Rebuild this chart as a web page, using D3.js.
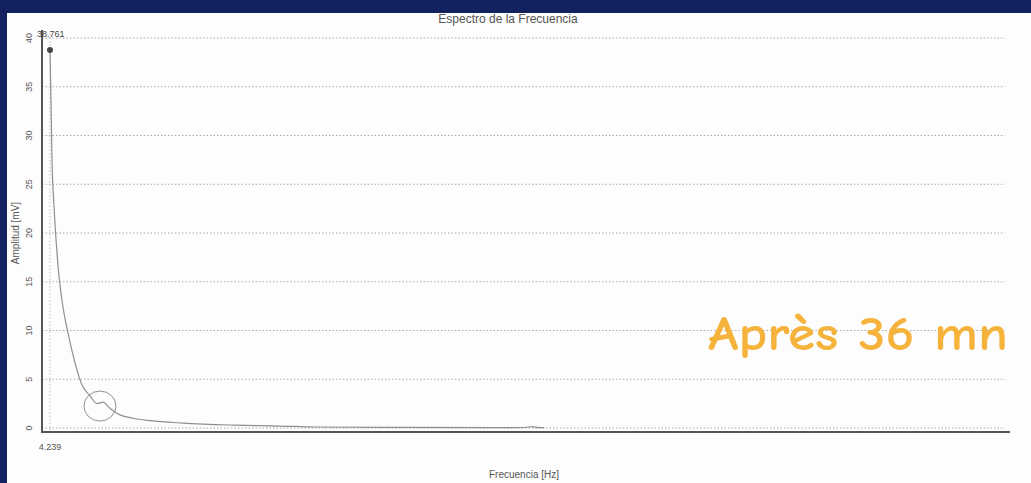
<!DOCTYPE html>
<html>
<head>
<meta charset="utf-8">
<script src="https://cdn.jsdelivr.net/npm/d3@7"></script>
<style>
  html, body { margin: 0; padding: 0; background: #13225f; }
  svg { display: block; }
</style>
</head>
<body>
<svg id="chart"></svg>
<script>
// spectrum readings (Hz, mV)
const freqs = [4.239, 4.76, 5.28, 6.3, 7.4, 8.4, 10.5, 13.7, 17.3, 21.0, 25.2, 28.9, 32.0, 35.7, 40.9, 47.7, 56.6, 73.9, 100.0, 124.6, 144.0, 187.5, 239.8, 252.6, 256.6, 260.0, 263.0];
const amps  = [38.761, 33.6, 27.5, 22.9, 19.3, 16.7, 13.1, 9.7, 6.7, 4.4, 3.3, 2.5, 2.65, 2.0, 1.35, 1.0, 0.75, 0.5, 0.3, 0.2, 0.1, 0.06, 0.04, 0.05, 0.15, 0.04, 0.03];
const yTicks = [0, 5, 10, 15, 20, 25, 30, 35, 40];
const xTicks = [4.239];
const peak = { freq: 4.239, amp: 38.761, label: '38.761' };
const ring = { freq: 30.4, amp: 2.25 };
const title = 'Espectro de la Frecuencia';
const xlabel = 'Frecuencia [Hz]';
const ylabel = 'Amplitud [mV]';
const note = 'Après 36 mn';

const W = 1031, H = 483;
const svg = d3.select('#chart').attr('width', W).attr('height', H);

// white panel
svg.append('rect').attr('x', 7).attr('y', 13).attr('width', W - 7).attr('height', H - 13).attr('fill', '#fdfdfd');

const xscale = d3.scaleLinear().domain([4.239, 504.239]).range([50, 1005]);
const yscale = d3.scaleLinear().domain([0, 40]).range([428, 38]);

const grid = svg.append('g');
grid.selectAll('line.h').data(yTicks).join('line')
    .attr('x1', 42).attr('x2', 1005)
    .attr('y1', d => yscale(d)).attr('y2', d => yscale(d))
    .attr('stroke', '#a8a8a8').attr('stroke-width', 1)
    .attr('stroke-dasharray', '1.5,2');
grid.selectAll('line.v').data(xTicks).join('line')
    .attr('x1', d => xscale(d)).attr('x2', d => xscale(d))
    .attr('y1', 34).attr('y2', 432)
    .attr('stroke', '#c0c0c0').attr('stroke-width', 1)
    .attr('stroke-dasharray', '1.5,2');

// axes frame
svg.append('line').attr('x1', 42).attr('x2', 42).attr('y1', 30).attr('y2', 433)
    .attr('stroke', '#555').attr('stroke-width', 2);
svg.append('line').attr('x1', 41).attr('x2', 1010).attr('y1', 432).attr('y2', 432)
    .attr('stroke', '#555').attr('stroke-width', 2);

// y tick labels (rotated)
svg.append('g').selectAll('text').data(yTicks).join('text')
    .attr('transform', d => `translate(32, ${yscale(d)}) rotate(-90)`)
    .attr('text-anchor', 'middle')
    .style('font-family', 'Liberation Sans, Arial, sans-serif')
    .style('font-size', '9px')
    .attr('fill', '#555')
    .text(d => d);

// x tick labels
svg.append('g').selectAll('text').data(xTicks).join('text')
    .attr('x', d => xscale(d)).attr('y', 450)
    .attr('text-anchor', 'middle')
    .style('font-family', 'Liberation Sans, Arial, sans-serif')
    .style('font-size', '9px')
    .attr('fill', '#555')
    .text(d => d);

// spectrum line
const pts = freqs.map((f, i) => ({ f: f, a: amps[i] }));
const line = d3.line().x(d => xscale(d.f)).y(d => yscale(d.a)).curve(d3.curveMonotoneX);
svg.append('path').attr('d', line(pts))
    .attr('fill', 'none').attr('stroke', '#8f8f8f').attr('stroke-width', 1.2);

// peak marker
svg.append('circle').attr('cx', xscale(peak.freq)).attr('cy', yscale(peak.amp)).attr('r', 3)
    .attr('fill', '#444');
svg.append('text').attr('x', xscale(peak.freq) - 13).attr('y', 37)
    .style('font-family', 'Liberation Sans, Arial, sans-serif')
    .style('font-size', '9px')
    .attr('fill', '#444')
    .text(peak.label);

// annotation ring
svg.append('ellipse').attr('cx', xscale(ring.freq)).attr('cy', yscale(ring.amp)).attr('rx', 16).attr('ry', 15)
    .attr('fill', 'none').attr('stroke', '#8f8f8f').attr('stroke-width', 1);

// titles
svg.append('text').attr('x', 508).attr('y', 23).attr('text-anchor', 'middle')
    .style('font-family', 'Liberation Sans, Arial, sans-serif')
    .style('font-size', '12px').attr('fill', '#555').text(title);
svg.append('text').attr('x', 524).attr('y', 478).attr('text-anchor', 'middle')
    .style('font-family', 'Liberation Sans, Arial, sans-serif')
    .style('font-size', '10px').attr('fill', '#555').text(xlabel);
svg.append('text').attr('transform', 'translate(19, 233) rotate(-90)').attr('text-anchor', 'middle')
    .style('font-family', 'Liberation Sans, Arial, sans-serif')
    .style('font-size', '10px').attr('fill', '#555').text(ylabel);

// overlay note
svg.append('text').attr('x', 708).attr('y', 350)
    .attr('textLength', 300).attr('lengthAdjust', 'spacingAndGlyphs')
    .style('font-family', '"Comic Sans MS", "Comic Neue", "DejaVu Sans", sans-serif')
    .style('font-size', '48px').style('font-weight', 'bold')
    .attr('fill', '#f6b33c').text(note);
</script>
</body>
</html>
